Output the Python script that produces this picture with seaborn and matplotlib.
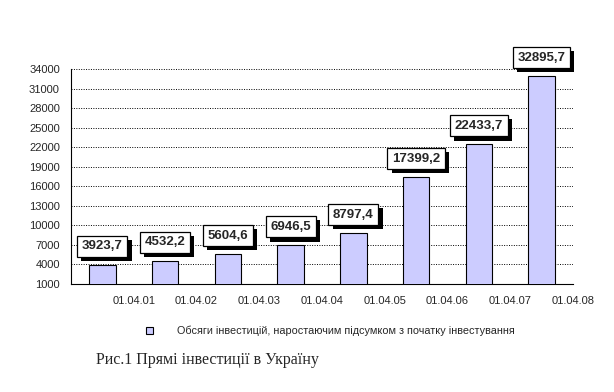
import matplotlib
matplotlib.use("Agg")
import matplotlib.pyplot as plt
import matplotlib.patheffects as pe
import seaborn as sns
import pandas as pd

categories = ["c1", "c2", "c3", "c4", "c5", "c6", "c7", "c8"]
values = [3923.7, 4532.2, 5604.6, 6946.5, 8797.4, 17399.2, 22433.7, 32895.7]
value_labels = ["3923,7", "4532,2", "5604,6", "6946,5", "8797,4", "17399,2", "22433,7", "32895,7"]
tick_labels = ["01.04.01", "01.04.02", "01.04.03", "01.04.04", "01.04.05", "01.04.06", "01.04.07", "01.04.08"]
y_ticks = [1000, 4000, 7000, 10000, 13000, 16000, 19000, 22000, 25000, 28000, 31000, 34000]
series_name = "Обсяги інвестицій, наростаючим підсумком з початку інвестування"
caption = "Рис.1 Прямі інвестиції в Україну"

df = pd.DataFrame({"cat": categories, "val": values})

sns.set_style("white")
plt.rcParams["font.family"] = ["Liberation Sans", "DejaVu Sans"]

fig = plt.figure(figsize=(6.14, 3.92), dpi=100)
ax = fig.add_axes([71 / 614, 1 - 284 / 392, (573 - 71) / 614, (284 - 69) / 392])

sns.barplot(data=df, x="cat", y="val", color="#CCCCFF", edgecolor="black",
            linewidth=0.8, width=0.42, saturation=1, ax=ax, label=series_name,
            zorder=3)
if ax.get_legend() is not None:
    ax.get_legend().remove()

ax.set_ylim(1000, 34000)
ax.set_xlim(-0.5, len(categories) - 0.5)
ax.set_yticks(y_ticks)
ax.set_yticklabels([str(t) for t in y_ticks], fontsize=8)
ax.set_xticks([i + 0.5 for i in range(len(categories))])
ax.set_xticklabels(tick_labels, fontsize=8)
ax.set_xlabel("")
ax.set_ylabel("")
ax.tick_params(axis="y", direction="out", length=3, width=0.8, color="black", pad=5)
ax.tick_params(axis="x", direction="out", length=4, width=0.8, color="black", pad=5)
ax.yaxis.grid(True, linestyle=(0, (1, 1.5)), color="black", linewidth=0.7, zorder=0)
ax.xaxis.grid(False)
ax.set_axisbelow(True)
for s in ["top", "right"]:
    ax.spines[s].set_visible(False)
for s in ["left", "bottom"]:
    ax.spines[s].set_color("black")
    ax.spines[s].set_linewidth(0.8)

for i, (v, lab) in enumerate(zip(values, value_labels)):
    t = ax.annotate(lab, xy=(i, v), xytext=(0, 9), textcoords="offset points",
                    ha="center", va="bottom", fontsize=9.5, fontweight="bold",
                    bbox=dict(boxstyle="square,pad=0.35", fc="white", ec="black", lw=0.9),
                    zorder=5, annotation_clip=False)
    t.get_bbox_patch().set_path_effects([
        pe.SimplePatchShadow(offset=(3, -3), shadow_rgbFace="black", alpha=1.0),
        pe.Normal()])

handles, labels = ax.get_legend_handles_labels()
leg = fig.legend(handles[:1], labels[:1], loc="center left",
                 bbox_to_anchor=(136 / 614, 1 - 331 / 392),
                 frameon=False, fontsize=7.8, handlelength=0.7, handleheight=0.7,
                 handletextpad=2.2)

fig.text(96 / 614, 1 - 360 / 392, caption, fontsize=11.5,
         family=["Liberation Serif", "DejaVu Serif"], va="center", ha="left")

fig.savefig("out.png", dpi=100)
